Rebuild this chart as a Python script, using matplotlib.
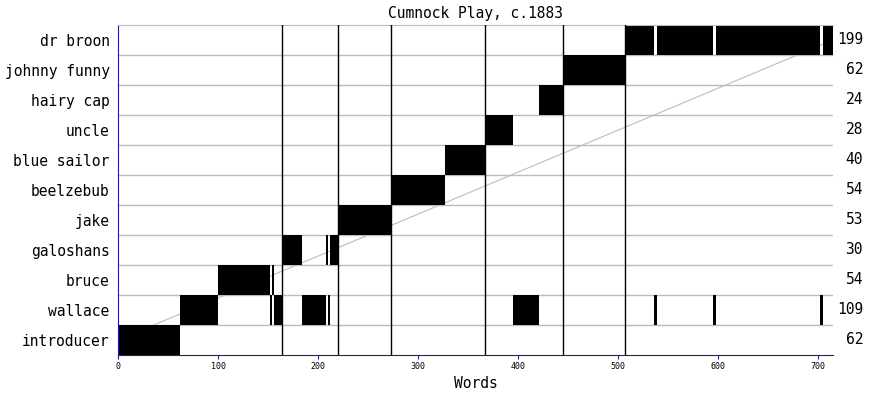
import numpy as np
import matplotlib
matplotlib.use("Agg")
import matplotlib.pyplot as plt

# speakers, bottom row first
speakers = ["introducer", "wallace", "bruce", "galoshans", "jake", "beelzebub",
            "blue sailor", "uncle", "hairy cap", "johnny funny", "dr broon"]
word_counts = [62, 109, 54, 30, 53, 54, 40, 28, 24, 62, 199]

# speech turns in play order
turn_speaker = ["introducer", "wallace", "bruce", "wallace", "bruce", "wallace",
                "galoshans", "wallace", "galoshans", "wallace", "galoshans",
                "jake", "beelzebub", "blue sailor", "uncle", "wallace",
                "hairy cap", "johnny funny", "dr broon", "wallace", "dr broon",
                "wallace", "dr broon", "wallace", "dr broon"]
turn_words = [62, 38, 52, 2, 2, 8, 20, 24, 2, 2, 8, 53, 54, 40, 28, 26,
              24, 62, 29, 3, 56, 3, 104, 3, 10]

scene_breaks = [164, 220, 273, 367, 445, 507]
x_ticks = [0, 100, 200, 300, 400, 500, 600, 700]

navy = "#1c1c8a"
grey = "#bcbcbc"
mono = "DejaVu Sans Mono"

starts = np.concatenate([[0], np.cumsum(turn_words)[:-1]])
total = int(np.sum(turn_words))

fig = plt.figure(figsize=(8.7, 3.95), dpi=100)
ax = fig.add_axes([118 / 870, 40 / 395, 715 / 870, 330 / 395])

# diagonal reference line behind the bars
ax.plot([0, total], [0, len(speakers) - 1], color=grey, lw=0.8, zorder=1)

for i in range(len(speakers) - 1):
    ax.axhline(i + 0.5, color=grey, lw=1, zorder=1)

for name, s, w in zip(turn_speaker, starts, turn_words):
    row = speakers.index(name)
    ax.broken_barh([(s, w)], (row - 0.5, 1), facecolor="black", lw=0, zorder=2)

for b in scene_breaks:
    ax.axvline(b, color="black", lw=1.0, zorder=3)

ax.set_xlim(0, total)
ax.set_ylim(-0.5, len(speakers) - 0.5)

ax.set_yticks(range(len(speakers)))
ax.set_yticklabels(speakers, family=mono, fontsize=10.5)
ax.tick_params(axis="y", length=0, pad=6)

ax.set_xticks(x_ticks)
ax.set_xticklabels([str(t) for t in x_ticks], family=mono, fontsize=6)
ax.tick_params(axis="x", length=3, color=navy, pad=2)

for i, c in enumerate(word_counts):
    ax.text(1.042, i, str(c), transform=ax.get_yaxis_transform(),
            ha="right", va="center", family=mono, fontsize=10.5)

ax.spines["left"].set_color(navy)
ax.spines["bottom"].set_color(navy)
ax.spines["top"].set_color(grey)
ax.spines["right"].set_visible(False)

ax.set_title("Cumnock Play, c.1883", family=mono, fontsize=10.5, pad=5)
ax.set_xlabel("Words", family=mono, fontsize=10.5, labelpad=4)

fig.savefig("out.png", dpi=100)
